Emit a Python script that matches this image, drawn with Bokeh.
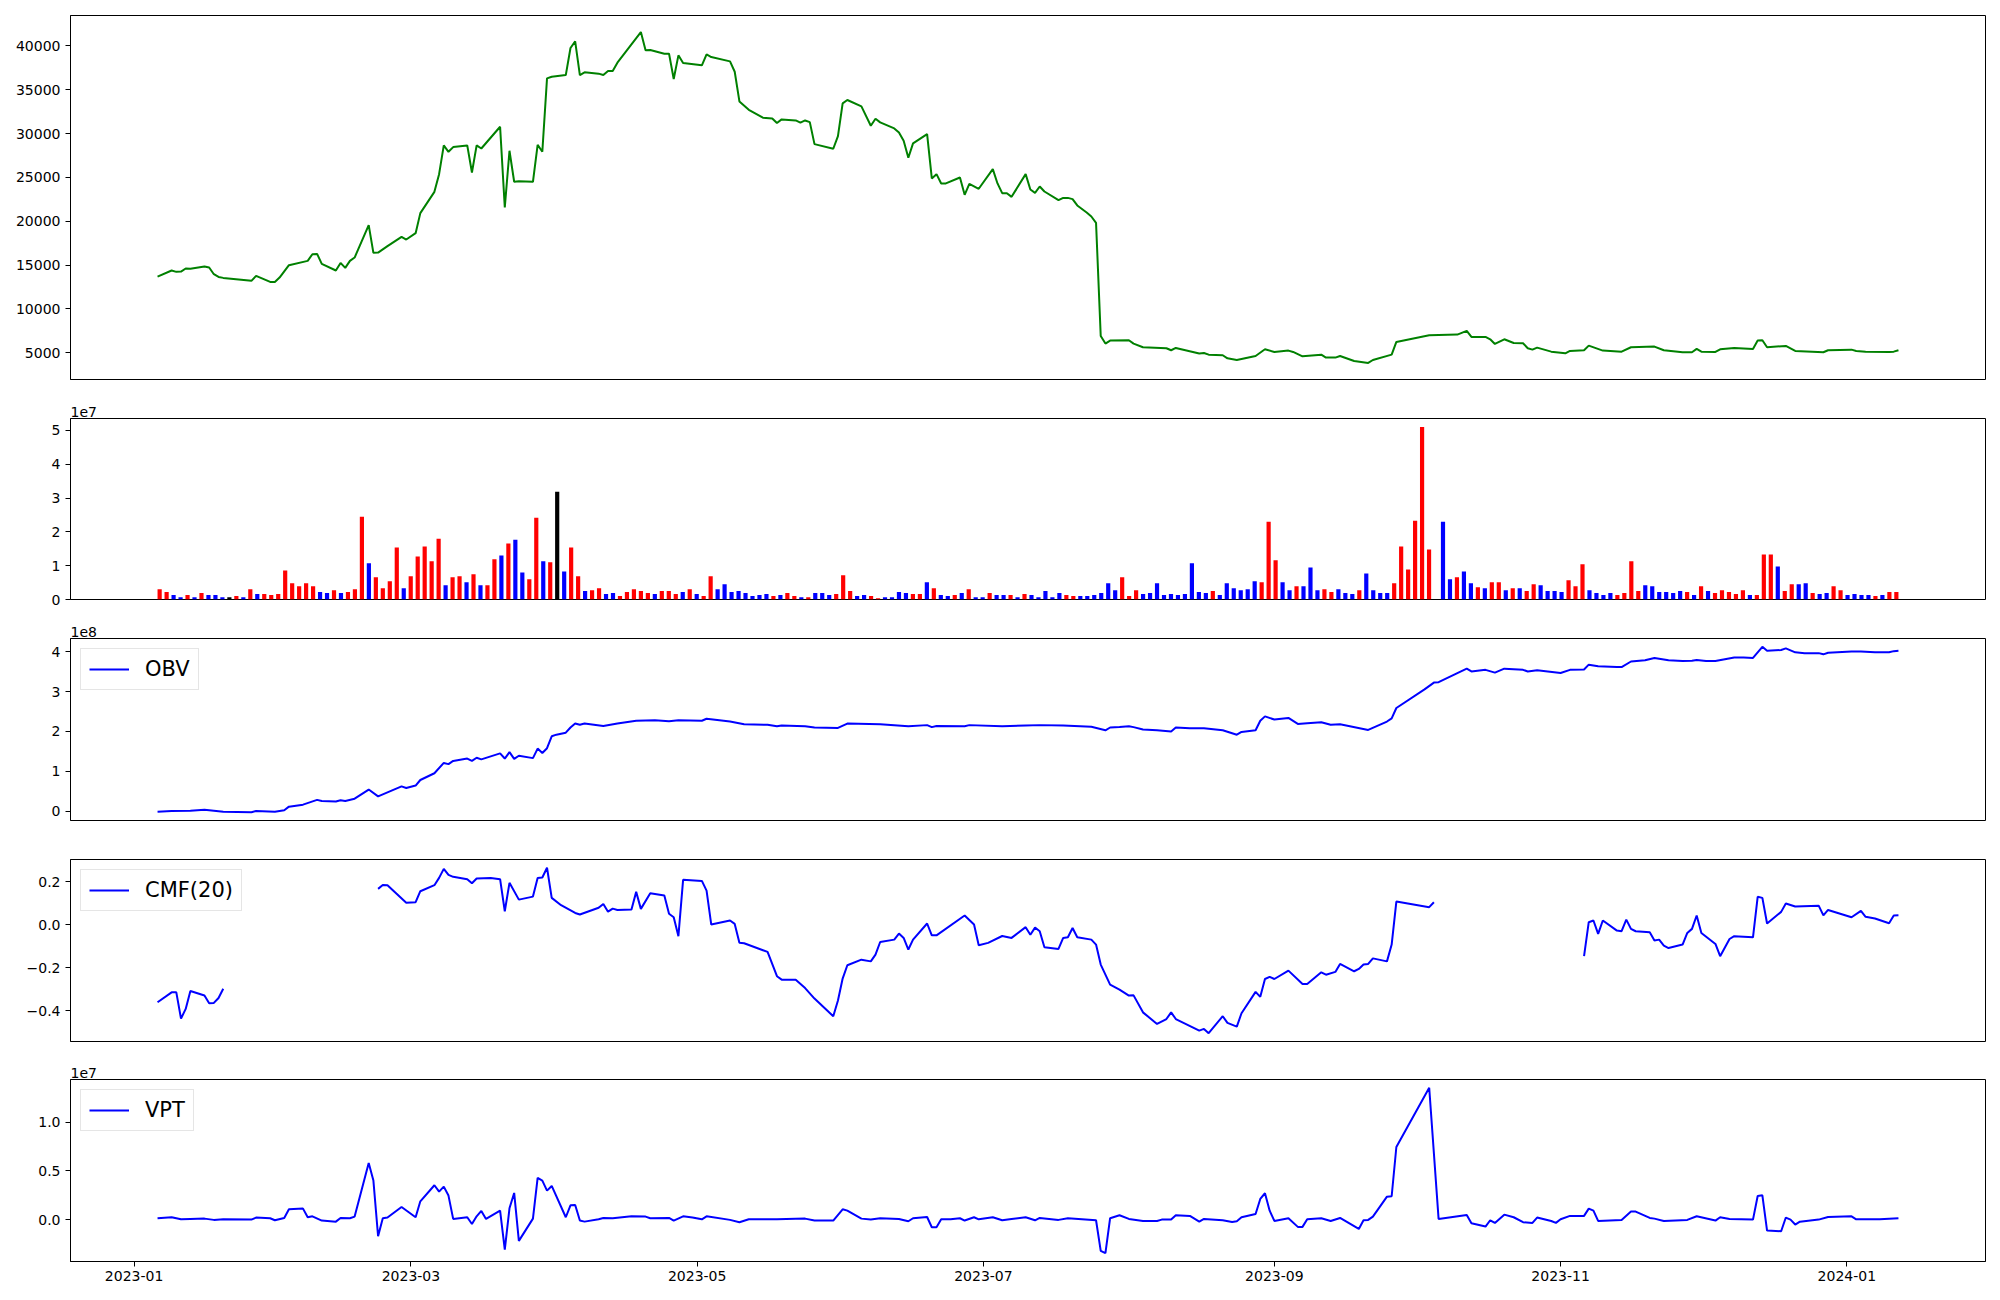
import numpy as np
import pandas as pd
from bokeh.plotting import figure
from bokeh.layouts import column
from bokeh.models import (Range1d, FixedTicker, CustomJSTickFormatter, Legend, LegendItem,
                          ColumnDataSource, BasicTickFormatter)
from bokeh.embed import file_html
from bokeh.resources import INLINE

BASE_DATE = "2023-01-01"   # day numbers below count calendar days from this date

# ---------------- price (close) ----------------
price_day = [5, 8, 9, 10, 11, 12, 15, 16, 17, 18, 19, 25, 26, 29, 30, 31, 33, 37, 38, 39, 40, 43, 44, 45, 46, 47,
             50, 51, 52, 54, 57, 58, 60, 61, 64, 65, 66, 67, 68, 71, 72, 73, 74, 78, 79, 80, 81, 82, 85, 86, 87, 88,
             89, 92, 93, 94, 95, 96, 99, 100, 101, 102, 103, 108, 109, 110, 113, 114, 115, 116, 117, 121, 122, 123,
             127, 128, 129, 131, 134, 136, 137, 138, 141, 142, 143, 144, 145, 149, 150, 151, 152, 155, 157, 158, 159,
             162, 163, 164, 165, 166, 169, 170, 171, 172, 173, 176, 177, 178, 180, 183, 184, 185, 186, 187, 190, 191,
             192, 193, 194, 197, 198, 199, 200, 201, 203, 204, 205, 206, 207, 208, 212, 213, 215, 220, 221, 222, 227,
             228, 229, 232, 233, 235, 239, 241, 243, 246, 247, 249, 253, 254, 256, 257, 260, 263, 264, 268, 269, 276,
             282, 284, 285, 288, 289, 290, 292, 294, 296, 297, 298, 299, 302, 305, 306, 309, 310, 313, 317, 319, 324,
             326, 330, 332, 333, 334, 337, 338, 341, 345, 346, 347, 348, 352, 354, 360, 361, 366, 367, 369, 374, 375,
             376]
price = [13680, 14370, 14220, 14250, 14600, 14560, 14830, 14710, 13950, 13640, 13530, 13190, 13760, 13070, 13070,
         13570, 14980, 15470, 16230, 16270, 15130, 14370, 15240, 14670, 15470, 15850,
         19550, 16390, 16420, 17150, 18210, 17910, 18630, 20920, 23350, 25370, 28650, 27920, 28460, 28650, 25560,
         28650, 28300, 30780, 21560, 28040, 24500, 24570, 24500, 28720, 27920, 36300,
         36490, 36680, 39770, 40530, 36680, 36990, 36840, 36680, 37140, 37140, 38090, 41590, 39500, 39540, 39120,
         39120, 36230, 38930, 38050, 37790, 39040, 38740,
         38240, 37060, 33670, 32720, 31810, 31730, 31200, 31620, 31500, 31240, 31500, 31310, 28800, 28270, 29710,
         33450, 33830, 33100, 30900, 31690, 31280,
         30590, 30130, 29180, 27240, 28880, 29940, 24880, 25370, 24310, 24310, 24990, 23010, 24270, 23700, 25950,
         24310, 23200, 23200, 22780, 25370, 23620,
         23240, 23960, 23390, 22400, 22660, 22660, 22520, 21800, 20990, 20540, 19810, 6900, 6030, 6370, 6410, 6030,
         5610, 5500, 5270, 5530, 4890,
         4960, 4770, 4700, 4350, 4160, 4620, 5380, 5080, 5230, 5080, 4580, 4770, 4430, 4430, 4620, 4050, 3820, 4160,
         4770, 6220, 6980,
         7060, 7480, 6790, 6790, 6520, 5990, 6520, 6100, 6070, 5500, 5340, 5570, 5110, 4920, 5190, 5270, 5800, 5230,
         5110, 5610, 5690,
         5270, 5040, 5040, 5420, 5110, 5080, 5380, 5530, 5420, 6370, 6410, 5610, 5760, 5190, 5040, 5270, 5340, 5190,
         5110, 5080, 5110,
         5270]

# ---------------- volume (one bar per trading day, units of 1e7 shares) ----------------
volume_e7 = [0.30, 0.22, 0.13, 0.07, 0.13, 0.07, 0.19, 0.13, 0.13, 0.07,
             0.07, 0.10, 0.07, 0.30, 0.16, 0.16, 0.13, 0.16, 0.86, 0.48,
             0.39, 0.48, 0.39, 0.22, 0.19, 0.27, 0.19, 0.22, 0.30, 2.45,
             1.07, 0.66, 0.33, 0.54, 1.54, 0.33, 0.69, 1.27, 1.57, 1.13,
             1.80, 0.42, 0.66, 0.69, 0.51, 0.75, 0.42, 0.42, 1.19, 1.30,
             1.66, 1.77, 0.80, 0.60, 2.42, 1.13, 1.10, 3.19, 0.83, 1.54,
             0.69, 0.25, 0.27, 0.33, 0.16, 0.19, 0.10, 0.22, 0.30, 0.25,
             0.19, 0.16, 0.25, 0.25, 0.16, 0.22, 0.30, 0.16, 0.10, 0.69,
             0.30, 0.45, 0.22, 0.25, 0.19, 0.10, 0.13, 0.16, 0.10, 0.13,
             0.19, 0.10, 0.07, 0.07, 0.19, 0.19, 0.13, 0.16, 0.72, 0.25,
             0.10, 0.13, 0.10, 0.04, 0.07, 0.07, 0.22, 0.19, 0.16, 0.16,
             0.51, 0.33, 0.13, 0.10, 0.13, 0.19, 0.30, 0.07, 0.07, 0.19,
             0.13, 0.13, 0.13, 0.07, 0.16, 0.13, 0.07, 0.25, 0.07, 0.19,
             0.13, 0.10, 0.10, 0.10, 0.13, 0.19, 0.48, 0.27, 0.66, 0.10,
             0.27, 0.16, 0.19, 0.48, 0.13, 0.16, 0.13, 0.16, 1.07, 0.22,
             0.19, 0.25, 0.13, 0.48, 0.33, 0.27, 0.30, 0.54, 0.51, 2.30,
             1.16, 0.51, 0.27, 0.39, 0.39, 0.95, 0.27, 0.30, 0.22, 0.30,
             0.19, 0.16, 0.27, 0.77, 0.27, 0.19, 0.19, 0.48, 1.57, 0.89,
             2.33, 5.10, 1.48, 0.00, 2.30, 0.60, 0.66, 0.83, 0.48, 0.36,
             0.33, 0.51, 0.51, 0.27, 0.33, 0.33, 0.25, 0.45, 0.42, 0.25,
             0.25, 0.22, 0.57, 0.39, 1.04, 0.27, 0.19, 0.13, 0.19, 0.13,
             0.19, 1.13, 0.25, 0.42, 0.39, 0.22, 0.22, 0.19, 0.25, 0.22,
             0.13, 0.39, 0.25, 0.19, 0.27, 0.22, 0.16, 0.27, 0.13, 0.13,
             1.33, 1.33, 0.98, 0.25, 0.45, 0.45, 0.48, 0.19, 0.16, 0.19,
             0.39, 0.27, 0.13, 0.16, 0.13, 0.13, 0.10, 0.13, 0.22, 0.22]
# r = up day, b = down day, k = unchanged
direction = ("rrbbrbrbbb krbrbrrrrr rrrbbrbrrr brrrrbrrrr rbrrbrbrrb rbbrrbrkbr rbrrbbrrrr rbrrrbrbrr "
             "bbbbbbbbrb rrbrbbbrrr bbrrbbbbrr brbbrbrbbr bbrbrbbbbb rrbbbbbbrr rbbbbbbbbb brbbbbbbrr "
             "rbbrbbbrrb bbrbbbbrrr rrrkbbrbbr brrbrbrrbb bbrrrbbbbr rrrbbbbbbr brbrrrrrbr rrbrrbbrbb "
             "rrbbbbrbrr").replace(" ", "")

# ---------------- OBV (units of 1e8) ----------------
obv_day = [5, 8, 12, 15, 19, 25, 26, 30, 32, 33, 36, 39, 40, 43, 44, 45, 47, 50, 52, 57, 58, 60, 61, 64, 66, 67, 68,
           71, 72, 73, 74, 78, 79, 80, 81, 82, 85, 86, 87, 88, 89, 90, 92, 93, 94, 95, 96, 100, 103, 107, 111, 114,
           116, 121, 122, 127, 130, 135, 137, 138, 143, 145, 150, 152, 159, 165, 169, 170, 171, 177, 178, 185, 190,
           193, 198, 204, 207, 208, 210, 212, 213, 215, 218, 221, 222, 225, 228, 232, 235, 236, 239, 240, 241, 243,
           246, 248, 250, 253, 255, 257, 263, 267, 268, 269, 275, 277, 278, 284, 285, 288, 290, 292, 296, 297, 299,
           304, 306, 309, 310, 312, 316, 317, 319, 322, 324, 327, 330, 332, 333, 335, 337, 341, 343, 345, 347, 348,
           351, 352, 354, 356, 359, 360, 361, 366, 368, 371, 374, 375, 376]
obv_e8 = [-0.02, 0.0, 0.01, 0.03, -0.02, -0.03, 0.0, -0.02, 0.02, 0.11, 0.16, 0.28, 0.25, 0.24, 0.27, 0.25, 0.31,
          0.54, 0.37, 0.62, 0.58, 0.64, 0.78, 0.95, 1.21, 1.18, 1.26,
          1.32, 1.26, 1.34, 1.30, 1.45, 1.32, 1.48, 1.31, 1.39, 1.33, 1.57, 1.46, 1.58, 1.88, 1.92, 1.97, 2.10, 2.20,
          2.17, 2.20, 2.14, 2.20, 2.27, 2.28, 2.26,
          2.28, 2.27, 2.32, 2.25, 2.18, 2.17, 2.13, 2.15, 2.13, 2.10, 2.09, 2.20, 2.18, 2.13, 2.16, 2.11, 2.14, 2.13,
          2.16, 2.13, 2.15,
          2.16, 2.15, 2.12, 2.03, 2.10, 2.11, 2.13, 2.11, 2.05, 2.03, 2.00, 2.10, 2.08, 2.08, 2.03, 1.92, 1.99, 2.03,
          2.27, 2.38, 2.30,
          2.34, 2.19, 2.21, 2.23, 2.17, 2.18, 2.04, 2.25, 2.33, 2.59, 3.06, 3.23, 3.24, 3.58, 3.51, 3.55, 3.48, 3.58,
          3.55, 3.51, 3.54,
          3.47, 3.55, 3.56, 3.68, 3.64, 3.62, 3.62, 3.76, 3.79, 3.85, 3.79, 3.77, 3.78, 3.80, 3.77, 3.77, 3.86, 3.86,
          3.85, 4.13, 4.03,
          4.05, 4.09, 3.99, 3.97, 3.97, 3.94, 3.98, 4.01, 4.01, 3.99, 3.99, 4.02, 4.03]

# ---------------- CMF(20) (None = no value) ----------------
cmf_day = [5, 8, 9, 10, 11, 12, 15, 16, 17, 18, 19, 30,
           52, 53, 54, 58, 60, 61, 64, 65, 66, 67, 68, 71, 72, 73, 76, 78, 79, 80, 82, 85, 86, 87, 88, 89, 91, 94,
           95, 99, 100, 101, 102, 103, 106, 107, 108, 110, 113, 114, 115, 116, 117, 121, 122, 123, 127, 128, 129,
           130, 135, 137, 138, 141, 143, 145, 149, 150, 151, 152, 155, 157, 158, 159, 162, 163, 164, 165, 166, 169,
           170, 171, 177, 179, 180, 182, 185, 187, 190, 191, 192, 193, 194, 197, 198, 199, 200, 201, 204, 205, 206,
           208, 210, 212, 213, 215, 218, 220, 221, 222, 227, 228, 229, 232, 233, 235, 236, 239, 240, 241, 242, 243,
           246, 249, 250, 253, 254, 256, 257, 260, 261, 262, 263, 264, 267, 268, 269, 276, 277, 290,
           309, 310, 311, 312, 313, 316, 317, 318, 319, 320, 323, 324, 325, 326, 327, 330, 331, 332, 333, 334, 337,
           338, 340, 341, 345, 346, 347, 348, 351, 352, 354, 359, 360, 361, 366, 368, 369, 371, 374, 375, 376]
cmf = [-0.361, -0.315, -0.315, -0.437, -0.392, -0.309, -0.330, -0.366, -0.364, -0.341, -0.298, None,
       0.166, 0.184, 0.183, 0.101, 0.104, 0.155, 0.183, 0.217, 0.259, 0.231, 0.222, 0.211, 0.192, 0.214, 0.216,
       0.211, 0.062, 0.194, 0.116, 0.130, 0.217, 0.219, 0.264, 0.124, 0.090, 0.054,
       0.047, 0.078, 0.096, 0.060, 0.074, 0.068, 0.070, 0.152, 0.073, 0.146, 0.135, 0.050, 0.034, -0.054, 0.208,
       0.203, 0.158, 0.0, 0.019, 0.003, -0.085,
       -0.087, -0.127, -0.240, -0.256, -0.257, -0.295, -0.344, -0.426, -0.353, -0.251, -0.189, -0.163, -0.171,
       -0.140, -0.081, -0.070, -0.042, -0.062, -0.116, -0.070, 0.005,
       -0.050, -0.050, 0.042, 0.0, -0.096, -0.085, -0.053, -0.062, -0.012, -0.047, -0.014, -0.031, -0.105, -0.113,
       -0.062, -0.059, -0.016, -0.059, -0.070, -0.093, -0.186,
       -0.279, -0.302, -0.330, -0.329, -0.408, -0.462, -0.439, -0.408, -0.439, -0.493, -0.485, -0.505, -0.426,
       -0.457, -0.474, -0.412, -0.313, -0.336, -0.253, -0.243, -0.253,
       -0.214, -0.276, -0.276, -0.222, -0.233, -0.220, -0.183, -0.217, -0.206, -0.186, -0.183, -0.157, -0.171,
       -0.093, 0.107, 0.081, 0.104, None,
       -0.147, 0.011, 0.019, -0.043, 0.019, -0.028, -0.031, 0.023, -0.020, -0.031, -0.036, -0.074, -0.070, -0.098,
       -0.109, -0.093, -0.039, -0.020, 0.042, -0.039, -0.090,
       -0.147, -0.067, -0.054, -0.059, 0.129, 0.124, 0.005, 0.059, 0.098, 0.084, 0.088, 0.043, 0.068, 0.034, 0.064,
       0.036, 0.028, 0.006, 0.042, 0.043]

# ---------------- VPT (units of 1e7) ----------------
vpt_day = [5, 8, 10, 12, 15, 17, 19, 25, 26, 29, 30, 32, 33, 36, 37, 38, 40, 43, 44, 46, 47, 50, 51, 52, 53, 54, 57,
           60, 61, 64, 65, 66, 67, 68, 71, 72, 73, 74, 75, 78, 79, 80, 81, 82, 85, 86, 87, 88, 89, 92, 93, 94, 95,
           96, 99, 100, 102, 106, 109, 110, 114, 115, 117, 119, 121, 122, 127, 129, 131, 137, 143, 145, 149, 151,
           152, 155, 157, 159, 163, 165, 166, 169, 170, 171, 172, 174, 176, 177, 179, 180, 183, 185, 187, 190, 192,
           193, 197, 199, 205, 206, 207, 208, 210, 212, 215, 218, 219, 221, 222, 225, 227, 228, 232, 234, 235, 236,
           239, 240, 241, 242, 243, 246, 248, 249, 250, 253, 255, 257, 261, 262, 263, 264, 267, 268, 269, 276, 278,
           284, 285, 288, 289, 290, 292, 294, 296, 298, 299, 302, 303, 304, 306, 309, 310, 311, 312, 317, 319, 320,
           323, 324, 326, 331, 333, 337, 338, 340, 345, 346, 347, 348, 351, 352, 353, 354, 355, 359, 361, 366, 367,
           372, 376]
vpt_e7 = [0.014, 0.024, 0.003, 0.007, 0.010, -0.003, 0.003, 0.0, 0.021, 0.014, -0.007, 0.017, 0.106, 0.113, 0.024,
          0.034, -0.010, -0.021, 0.017, 0.014, 0.031, 0.582, 0.401, -0.171, 0.014, 0.021, 0.130,
          0.024, 0.188, 0.353, 0.288, 0.339, 0.247, 0.007, 0.024, -0.045, 0.034, 0.089, 0.007, 0.092, -0.308, 0.116,
          0.274, -0.219, 0.010, 0.428, 0.401, 0.298, 0.346, 0.024, 0.147, 0.151, -0.010,
          -0.021, 0.003, 0.017, 0.014, 0.034, 0.031, 0.014, 0.017, -0.010, 0.034, 0.021, 0.003, 0.034, -0.003, -0.027,
          0.003, 0.003, 0.010, -0.010, -0.010, 0.106,
          0.092, 0.010, 0.0, 0.014, 0.007, -0.017, 0.014, 0.027, -0.079, -0.079, 0.003, 0.003, 0.014, -0.010, 0.024,
          0.003, 0.024, -0.007, 0.007, 0.024, -0.007,
          0.017, -0.003, 0.014, -0.007, -0.322, -0.346, 0.014, 0.045, 0.007, -0.014, -0.014, 0.0, 0.0, 0.045, 0.038,
          -0.021, 0.007, -0.007, -0.024, -0.017, 0.024,
          0.058, 0.212, 0.271, 0.092, -0.014, 0.014, -0.075, -0.075, 0.003, 0.014, -0.014, 0.017, -0.096, -0.007,
          -0.003, 0.031, 0.236, 0.240, 0.747, 1.356, 0.007,
          0.048, -0.038, -0.072, -0.007, -0.034, 0.051, 0.024, -0.027, -0.034, 0.021, -0.014, -0.034, 0.003, 0.038,
          0.038, 0.113, 0.092, -0.014, -0.003, 0.082, 0.082,
          0.017, 0.010, -0.014, -0.003, 0.034, -0.010, 0.024, 0.007, 0.0, 0.243, 0.250, -0.113, -0.120, 0.021, 0.0,
          -0.051, -0.021, 0.0, 0.027, 0.034, 0.003,
          0.003, 0.014]

# axis ticks
price_ticks = [5000, 10000, 15000, 20000, 25000, 30000, 35000, 40000]
volume_ticks_e7 = [0, 1, 2, 3, 4, 5]
obv_ticks_e8 = [0, 1, 2, 3, 4]
cmf_ticks = [-0.4, -0.2, 0.0, 0.2]
vpt_ticks_e7 = [0.0, 0.5, 1.0]
date_ticks = ["2023-01-01", "2023-03-01", "2023-05-01", "2023-07-01", "2023-09-01", "2023-11-01", "2024-01-01"]

# ---------------------------------------------------------------------------
FONT = "DejaVu Sans"
TICK_FS = "14px"
base = pd.Timestamp(BASE_DATE)


def to_dates(days):
    return (base + pd.to_timedelta(np.asarray(days), unit="D")).values


def padded(lo, hi, frac=0.05):
    span = hi - lo
    return lo - frac * span, hi + frac * span


d0 = base + pd.Timedelta(days=min(price_day))
d1 = base + pd.Timedelta(days=max(price_day))
span = d1 - d0
date_range = Range1d(start=d0 - 0.05 * span, end=d1 + 0.05 * span)

FRAME_W = 1915
LEFT = 70
RIGHT = 7


def style(p, ticks, fmt):
    p.outline_line_color = "black"
    p.outline_line_width = 1
    p.outline_line_alpha = 1
    p.xgrid.visible = False
    p.ygrid.visible = False
    p.background_fill_color = "white"
    p.border_fill_color = "white"
    ax = p.yaxis[0]
    ax.ticker = FixedTicker(ticks=ticks)
    ax.formatter = fmt
    ax.major_label_text_font = FONT
    ax.major_label_text_font_size = TICK_FS
    ax.major_label_text_color = "black"
    ax.major_tick_out = 5
    ax.major_tick_in = 0
    ax.minor_tick_out = 0
    ax.minor_tick_in = 0
    ax.major_label_standoff = 5
    ax.axis_line_color = "black"


def set_title(p, txt):
    p.title.text = txt
    p.title.text_font = FONT
    p.title.text_font_size = TICK_FS
    p.title.text_font_style = "normal"
    p.title.text_color = "black"
    p.title.align = "left"
    p.title.standoff = 3
    p.title.offset = 0


def add_legend(p, r, label):
    leg = Legend(items=[LegendItem(label=label, renderers=[r])], location="top_left")
    leg.label_text_font = FONT
    leg.label_text_font_size = "21px"
    leg.label_text_color = "black"
    leg.glyph_width = 40
    leg.glyph_height = 20
    leg.label_height = 20
    leg.label_standoff = 16
    leg.padding = 8
    leg.margin = 10
    leg.spacing = 0
    leg.border_line_color = "#cccccc"
    leg.border_line_width = 1
    leg.background_fill_alpha = 0.8
    p.add_layout(leg)


def sci_fmt(scale, digits):
    return CustomJSTickFormatter(
        code=f"return (tick/{scale}).toFixed({digits}).replace('-', '\u2212');")


common = dict(output_backend="svg", toolbar_location=None, frame_width=FRAME_W,
              min_border_left=LEFT, min_border_right=RIGHT)

# ---- panel 1: price
p_vals = np.array(price, dtype=float)
lo, hi = padded(p_vals.min(), p_vals.max())
p1 = figure(x_range=date_range, y_range=Range1d(lo, hi), x_axis_type="datetime", x_axis_location=None,
            frame_height=364, min_border_top=15, min_border_bottom=4, **common)
p1.line(to_dates(price_day), p_vals, line_color="green", line_width=2)
style(p1, price_ticks, BasicTickFormatter(use_scientific=False))

# ---- panel 2: volume (bars on trading-day index)
vol = np.array(volume_e7) * 1e7
N = len(vol)
bar_w = 0.6
idx = np.arange(N)
pad = 0.05 * (N - 1 + bar_w)
colors = [{"r": "red", "b": "blue", "k": "black"}[c] for c in direction]
p2 = figure(x_range=Range1d(-bar_w / 2 - pad, N - 1 + bar_w / 2 + pad), y_range=Range1d(0, vol.max() * 1.05),
            x_axis_location=None, frame_height=181, min_border_top=35, min_border_bottom=10, **common)
src = ColumnDataSource(dict(x=idx, top=vol, color=colors))
p2.vbar(x="x", top="top", width=bar_w, fill_color="color", line_color=None, source=src)
style(p2, [t * 1e7 for t in volume_ticks_e7], sci_fmt("1e7", 0))
set_title(p2, "1e7")

# ---- panel 3: OBV
obv = np.array(obv_e8) * 1e8
lo, hi = padded(obv.min(), obv.max())
p3 = figure(x_range=date_range, y_range=Range1d(lo, hi), x_axis_type="datetime", x_axis_location=None,
            frame_height=182, min_border_top=29, min_border_bottom=10, **common)
r3 = p3.line(to_dates(obv_day), obv, line_color="blue", line_width=2)
style(p3, [t * 1e8 for t in obv_ticks_e8], sci_fmt("1e8", 0))
set_title(p3, "1e8")
add_legend(p3, r3, "OBV")

# ---- panel 4: CMF(20)
cmf_v = np.array(cmf, dtype=float)
lo, hi = padded(np.nanmin(cmf_v), np.nanmax(cmf_v))
p4 = figure(x_range=date_range, y_range=Range1d(lo, hi), x_axis_type="datetime", x_axis_location=None,
            frame_height=182, min_border_top=29, min_border_bottom=10, **common)
r4 = p4.line(to_dates(cmf_day), cmf_v, line_color="blue", line_width=2)
style(p4, cmf_ticks, sci_fmt("1", 1))
add_legend(p4, r4, "CMF(20)")

# ---- panel 5: VPT
vpt = np.array(vpt_e7) * 1e7
lo, hi = padded(vpt.min(), vpt.max())
p5 = figure(x_range=date_range, y_range=Range1d(lo, hi), x_axis_type="datetime",
            frame_height=182, min_border_top=28, min_border_bottom=28, **common)
r5 = p5.line(to_dates(vpt_day), vpt, line_color="blue", line_width=2)
style(p5, [t * 1e7 for t in vpt_ticks_e7], sci_fmt("1e7", 1))
set_title(p5, "1e7")
add_legend(p5, r5, "VPT")
xa = p5.xaxis[0]
xa.ticker = FixedTicker(ticks=[pd.Timestamp(d).value / 1e6 for d in date_ticks])
xa.formatter = CustomJSTickFormatter(code="""
const d = new Date(tick);
return d.getUTCFullYear() + "-" + String(d.getUTCMonth() + 1).padStart(2, "0");
""")
xa.major_label_text_font = FONT
xa.major_label_text_font_size = TICK_FS
xa.major_label_text_color = "black"
xa.major_tick_out = 5
xa.major_tick_in = 0
xa.minor_tick_out = 0
xa.minor_tick_in = 0
xa.major_label_standoff = 4
xa.axis_line_color = "black"

layout = column(p1, p2, p3, p4, p5, spacing=0)
open("out.html", "w").write(file_html(layout, INLINE))
